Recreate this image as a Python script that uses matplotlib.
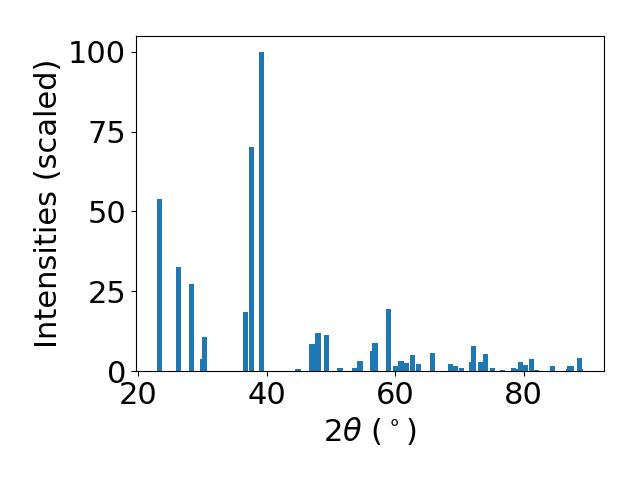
import matplotlib
matplotlib.use("Agg")
import matplotlib.pyplot as plt

# peak positions (2theta, degrees) and scaled intensities
two_theta = [23.40, 26.36, 28.38, 30.09, 30.40, 36.71, 37.72, 39.20, 44.90,
             47.07, 47.25, 48.00, 49.33, 51.43, 53.77, 54.55, 56.57, 56.88,
             58.91, 60.00, 60.20, 60.93, 61.71, 62.65, 63.58, 65.76, 68.57,
             69.35, 70.36, 71.84, 72.15, 73.24, 74.02, 75.11, 76.67, 78.38,
             78.70, 79.47, 80.25, 81.18, 82.05, 84.45, 86.95, 87.10, 87.42,
             88.66, 88.82]
intensities = [54.0, 32.6, 27.3, 3.8, 10.7, 18.5, 70.2, 100.0, 0.6,
               8.5, 4.4, 12.0, 11.3, 0.9, 0.9, 3.1, 6.3, 8.8,
               19.4, 1.6, 1.6, 3.1, 2.5, 5.0, 2.2, 5.6, 2.2,
               1.6, 0.9, 2.8, 7.8, 2.8, 5.3, 0.9, 0.3, 0.9,
               0.6, 2.8, 1.9, 3.8, 0.3, 1.6, 0.6, 1.6, 1.6,
               4.1, 0.6]

plt.rcParams['font.size'] = 22

fig, ax = plt.subplots(figsize=(6.4, 4.8), dpi=100)
ax.bar(two_theta, intensities)
ax.set_xlabel(r"$2\theta$ ($^\circ$)")
ax.set_ylabel("Intensities (scaled)")
fig.subplots_adjust(left=0.2125, right=0.944, bottom=0.227, top=0.925)
plt.savefig("out.png")
